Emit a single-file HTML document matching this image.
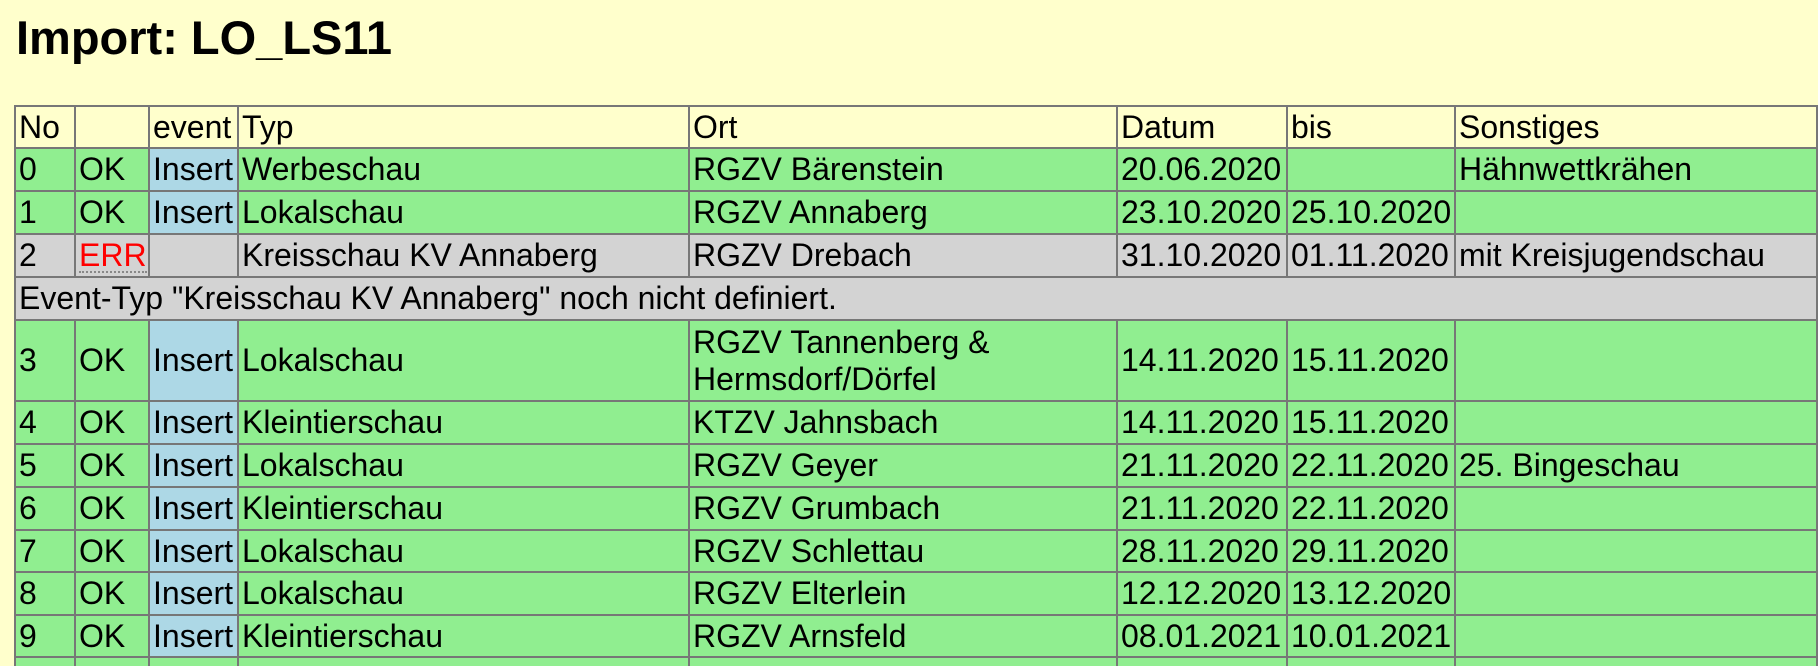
<!DOCTYPE html>
<html style="overflow:hidden;height:666px"><head><meta charset="utf-8">
<style>
html,body{margin:0;width:1818px;height:666px;overflow:hidden}
body{background:#ffffcc;font-family:"Liberation Sans",sans-serif;position:relative}
h1{position:absolute;left:16px;top:8px;margin:0;font-size:47px;font-weight:bold;line-height:60px}
.c{position:absolute;box-sizing:border-box;border-right:2px solid #777;border-bottom:2px solid #777;font-size:32px;line-height:37px;padding-left:3px;display:flex;align-items:center;white-space:nowrap;overflow:hidden}
.g{background:#90ee90}.b{background:#add8e6}.gr{background:#d3d3d3}.h{background:#ffffcc}
.err{color:#f00;border-bottom:2px dotted #888;line-height:32px}
.last{border-bottom:none}
</style></head><body>
<h1>Import: LO_LS11</h1>
<div id="t" style="position:absolute;left:0;top:0;width:1818px;height:666px;overflow:hidden"></div>
<script>
const xs=[16,76,150,239,690,1118,1288,1456,1818];
const header=["No","","event","Typ","Ort","Datum","bis","Sonstiges"];
const rows=[
["0","OK","Insert","Werbeschau","RGZV Bärenstein","20.06.2020","","Hähnwettkrähen"],
["1","OK","Insert","Lokalschau","RGZV Annaberg","23.10.2020","25.10.2020",""],
["2","ERR","","Kreisschau KV Annaberg","RGZV Drebach","31.10.2020","01.11.2020","mit Kreisjugendschau"],
["MSG",'Event-Typ "Kreisschau KV Annaberg" noch nicht definiert.'],
["3","OK","Insert","Lokalschau","RGZV Tannenberg &amp;<br>Hermsdorf/Dörfel","14.11.2020","15.11.2020",""],
["4","OK","Insert","Kleintierschau","KTZV Jahnsbach","14.11.2020","15.11.2020",""],
["5","OK","Insert","Lokalschau","RGZV Geyer","21.11.2020","22.11.2020","25. Bingeschau"],
["6","OK","Insert","Kleintierschau","RGZV Grumbach","21.11.2020","22.11.2020",""],
["7","OK","Insert","Lokalschau","RGZV Schlettau","28.11.2020","29.11.2020",""],
["8","OK","Insert","Lokalschau","RGZV Elterlein","12.12.2020","13.12.2020",""],
["9","OK","Insert","Kleintierschau","RGZV Arnsfeld","08.01.2021","10.01.2021",""],
["","","","","","","",""]
];
const ys=[107,149,192,235,278,321,402,445,488,531,573,616,658,666];
const t=document.getElementById('t');
function cell(x,y,w,h,html,cls){
 const d=document.createElement('div');
 d.className='c '+cls;
 d.style.left=x+'px';d.style.top=y+'px';d.style.width=w+'px';d.style.height=h+'px';
 d.innerHTML=html;
 t.appendChild(d);return d;
}
const tb=document.createElement('div');


tb.style.cssText='position:absolute;left:14px;top:105px;width:1804px;height:561px;border-top:2px solid #777;border-left:2px solid #777;box-sizing:border-box';
t.appendChild(tb);
header.forEach((h,i)=>{
 const d=cell(xs[i],ys[0],xs[i+1]-xs[i],ys[1]-ys[0],h,'h');
 
 
});
rows.forEach((r,ri)=>{
 const y=ys[ri+1],h=ys[ri+2]-y;
 if(r[0]==='MSG'){
  const d=cell(xs[0],y,xs[8]-xs[0],h,r[1],'gr');
  
  
  return;
 }
 const err=r[1]==='ERR';
 const isLast=ri===rows.length-1;
 r.forEach((v,i)=>{
  let cls=err?'gr':'g';
  if(i===2&&v==='Insert')cls='b';
  if(isLast)cls+=' last';
  let html=v;
  if(i===1&&err)html='<span class="err">ERR</span>';
  const d=cell(xs[i],y,xs[i+1]-xs[i],h,html,cls);
  
  
 });
});
</script>
</body></html>
